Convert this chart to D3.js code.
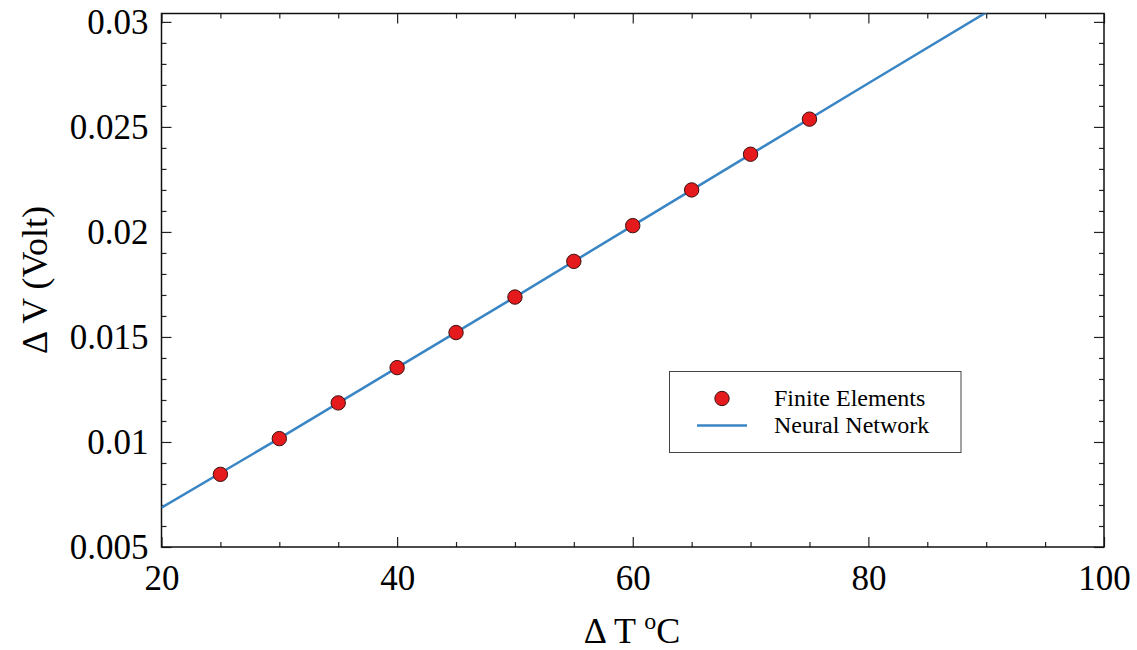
<!DOCTYPE html>
<html>
<head>
<meta charset="utf-8">
<script src="https://cdn.jsdelivr.net/npm/d3@7"></script>
<style>
  html, body { margin: 0; padding: 0; background: #fff; }
  svg { display: block; font-family: "Liberation Serif", "DejaVu Serif", serif; }
  svg text { font-family: "Liberation Serif", "DejaVu Serif", serif; }
</style>
</head>
<body>
<div id="chart"></div>
<script>
// data
const feTemp = [25, 30, 35, 40, 45, 50, 55, 60, 65, 70, 75];
const feVolt = [0.00846, 0.01016, 0.01186, 0.01354, 0.01521, 0.01690, 0.01860, 0.02030, 0.02200, 0.02370, 0.02537];
const nnTemp = [20, 30, 40, 50, 60, 70, 80, 90, 100];
const nnVolt = [0.00687, 0.01017, 0.01354, 0.01690, 0.02030, 0.02369, 0.02708, 0.03045, 0.0338];
const xTicks = [20, 40, 60, 80, 100];
const yTicks = [0.005, 0.01, 0.015, 0.02, 0.025, 0.03];
const yTickLabels = ["0.005", "0.01", "0.015", "0.02", "0.025", "0.03"];

const width = 1137, height = 650;
const plot = { left: 161.5, right: 1104, top: 13.5, bottom: 547 };
const serif = '"Liberation Serif", "DejaVu Serif", serif';

const svg = d3.select("#chart").append("svg")
  .attr("width", width)
  .attr("height", height);

const x = d3.scaleLinear().domain([20, 100]).range([plot.left, plot.right]);
const y = d3.scaleLinear().domain([0.005, 0.0304]).range([plot.bottom, plot.top]);

svg.append("clipPath").attr("id", "clip")
  .append("rect")
  .attr("x", plot.left).attr("y", plot.top)
  .attr("width", plot.right - plot.left)
  .attr("height", plot.bottom - plot.top);

// minor ticks every 5 on x, every 0.001 on y
const xMinor = d3.range(20, 100.01, 5).filter(v => !xTicks.includes(v));
const yMinor = d3.range(6, 30.5, 1).map(v => v / 1000).filter(v => !yTicks.some(t => Math.abs(t - v) < 1e-9));

const tickFont = 35;

// bottom axis (ticks inward)
const xAxisB = d3.axisBottom(x).tickValues(xTicks).tickSize(-10).tickFormat(d3.format("d")).tickPadding(0);
const gxb = svg.append("g").attr("transform", `translate(0,${plot.bottom})`).call(xAxisB);
gxb.attr("font-family", serif);
gxb.selectAll("text").attr("y", 43).attr("dy", 0)
  .style("font-size", tickFont + "px").style("font-family", serif).attr("fill", "#000");
svg.append("g").attr("transform", `translate(0,${plot.bottom})`)
  .call(d3.axisBottom(x).tickValues(xMinor).tickSize(-5).tickFormat(""));

// top axis
svg.append("g").attr("transform", `translate(0,${plot.top})`)
  .call(d3.axisTop(x).tickValues(xTicks).tickSize(-10).tickFormat(""));
svg.append("g").attr("transform", `translate(0,${plot.top})`)
  .call(d3.axisTop(x).tickValues(xMinor).tickSize(-5).tickFormat(""));

// left axis
const gyl = svg.append("g").attr("transform", `translate(${plot.left},0)`)
  .call(d3.axisLeft(y).tickValues(yTicks).tickSize(-10)
    .tickFormat((d, i) => yTickLabels[i]).tickPadding(0));
gyl.attr("font-family", serif);
gyl.selectAll("text").attr("x", -13).attr("dy", "0.32em")
  .style("font-size", tickFont + "px").style("font-family", serif).attr("fill", "#000");
svg.append("g").attr("transform", `translate(${plot.left},0)`)
  .call(d3.axisLeft(y).tickValues(yMinor).tickSize(-5).tickFormat(""));

// right axis
svg.append("g").attr("transform", `translate(${plot.right},0)`)
  .call(d3.axisRight(y).tickValues(yTicks).tickSize(-10).tickFormat(""));
svg.append("g").attr("transform", `translate(${plot.right},0)`)
  .call(d3.axisRight(y).tickValues(yMinor).tickSize(-5).tickFormat(""));

svg.selectAll(".domain").remove();
svg.selectAll(".tick line").attr("stroke", "#222").attr("stroke-width", 1.2);

// frame
svg.append("rect")
  .attr("x", plot.left).attr("y", plot.top)
  .attr("width", plot.right - plot.left)
  .attr("height", plot.bottom - plot.top)
  .attr("fill", "none").attr("stroke", "#111").attr("stroke-width", 1.5);

// neural network line
const nnData = nnTemp.map((t, i) => ({ t, v: nnVolt[i] }));
svg.append("path")
  .datum(nnData)
  .attr("clip-path", "url(#clip)")
  .attr("fill", "none")
  .attr("stroke", "#3a86c5")
  .attr("stroke-width", 2.5)
  .attr("d", d3.line().x(d => x(d.t)).y(d => y(d.v)));

// finite elements markers
const feData = feTemp.map((t, i) => ({ t, v: feVolt[i] }));
svg.append("g").selectAll("circle")
  .data(feData).enter()
  .append("circle")
  .attr("cx", d => x(d.t))
  .attr("cy", d => y(d.v))
  .attr("r", 7.2)
  .attr("fill", "#e41a1c")
  .attr("stroke", "#3a1010")
  .attr("stroke-width", 1);

// axis labels
const xl = svg.append("text")
  .attr("x", 632).attr("y", 643)
  .attr("text-anchor", "middle")
  .style("font-size", "36px");
xl.append("tspan").text("\u0394 T ");
xl.append("tspan").attr("dy", -14).style("font-size", "24px").text("o");
xl.append("tspan").attr("dy", 14).text("C");

svg.append("text")
  .attr("transform", "translate(47,280) rotate(-90)")
  .attr("text-anchor", "middle")
  .style("font-size", "36px")
  .text("\u0394 V (Volt)");

// legend
const lg = svg.append("g");
lg.append("rect")
  .attr("x", 669.5).attr("y", 371.5)
  .attr("width", 291.5).attr("height", 81)
  .attr("fill", "#fff").attr("stroke", "#444").attr("stroke-width", 1);
lg.append("circle")
  .attr("cx", 722).attr("cy", 398.5).attr("r", 7.2)
  .attr("fill", "#e41a1c").attr("stroke", "#3a1010").attr("stroke-width", 1);
lg.append("line")
  .attr("x1", 697).attr("x2", 747).attr("y1", 425.5).attr("y2", 425.5)
  .attr("stroke", "#3a86c5").attr("stroke-width", 2.5);
lg.append("text").attr("x", 774).attr("y", 405.5).style("font-size", "24px").text("Finite Elements");
lg.append("text").attr("x", 774).attr("y", 433).style("font-size", "24px").text("Neural Network");
</script>
</body>
</html>
